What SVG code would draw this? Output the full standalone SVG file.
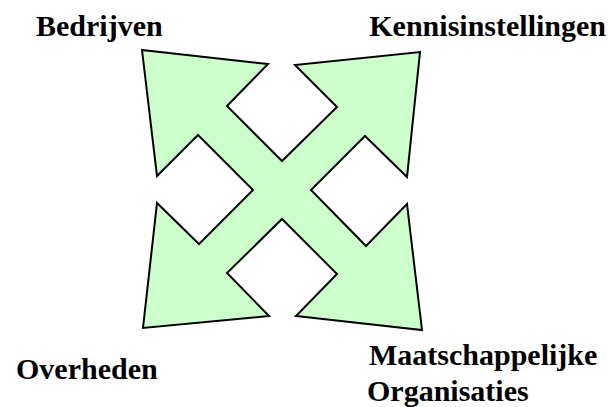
<svg xmlns="http://www.w3.org/2000/svg" width="608" height="407" viewBox="0 0 608 407">
  <style>
    .arrow { fill: #CCFFCC; stroke: #000; stroke-width: 2; stroke-linejoin: miter; }
  </style>
  <rect width="608" height="407" fill="#fff"/>
  <g id="connectors">
    <polygon class="arrow" points="142,50 268,64 227,106 282,161 337,107 295,65 420,52 407,177 365,136 311,190 366,246 407,204 422,330 296,316 337,274 282,219 227,273 269,316 143,328 157,203 199,244 253,190 198,135 157,176"/>
  </g>
  <g id="bedrijven"><text x="36" y="36" font-family="Liberation Serif" font-weight="bold" font-size="30">Bedrijven</text></g>
  <g id="kennisinstellingen"><text x="606" y="36" text-anchor="end" font-family="Liberation Serif" font-weight="bold" font-size="30">Kennisinstellingen</text></g>
  <g id="overheden"><text x="16" y="379" font-family="Liberation Serif" font-weight="bold" font-size="30">Overheden</text></g>
  <g id="maatschappelijke-organisaties">
    <text x="369" y="365" font-family="Liberation Serif" font-weight="bold" font-size="30">Maatschappelijke</text>
    <text x="367" y="401" font-family="Liberation Serif" font-weight="bold" font-size="30">Organisaties</text>
  </g>
</svg>
